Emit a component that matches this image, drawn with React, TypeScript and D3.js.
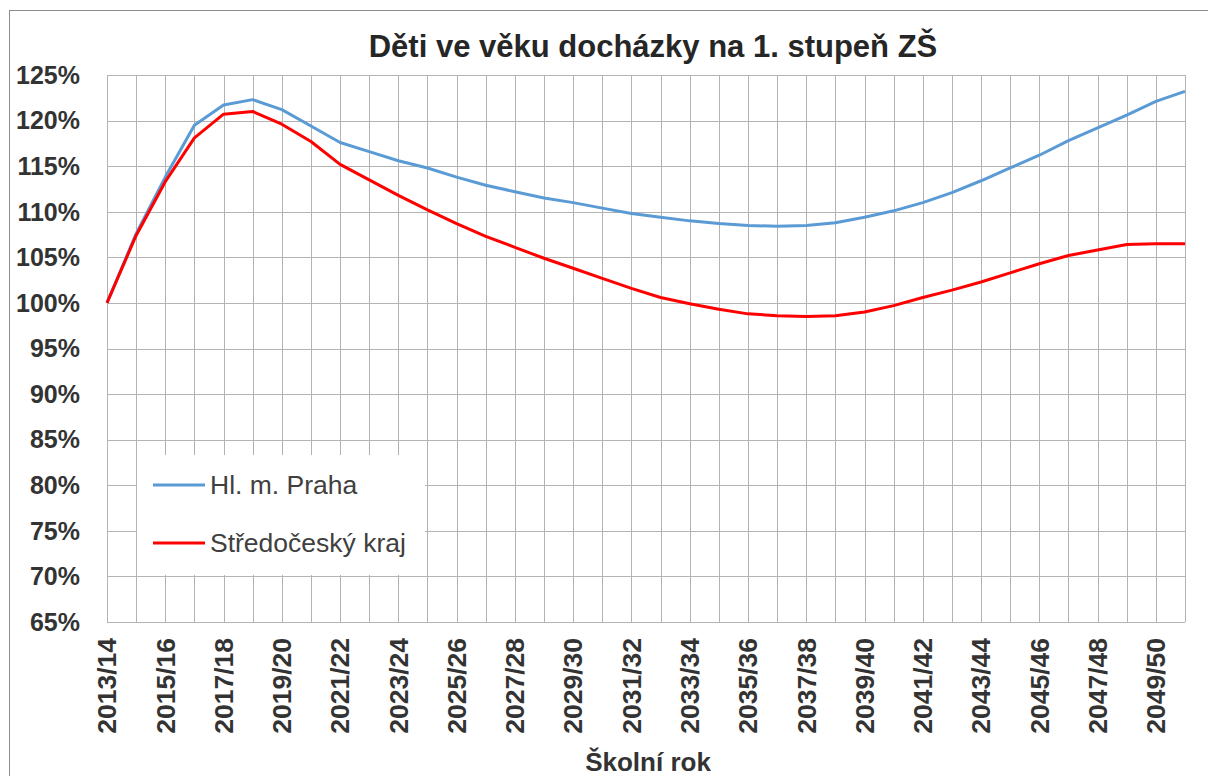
import * as React from 'react';
import * as d3 from 'd3';

// school years 2013/14 .. 2050/51
const YEARS: string[] = d3.range(2013, 2051).map((y) => y + '/' + String((y + 1) % 100).padStart(2, '0'));

const PRAHA: number[] = [
  100.0, 107.6, 113.8, 119.5, 121.7, 122.3, 121.2, 119.4, 117.6, 116.6,
  115.6, 114.8, 113.8, 112.9, 112.2, 111.5, 111.0, 110.4, 109.8, 109.4,
  109.0, 108.7, 108.5, 108.4, 108.5, 108.8, 109.4, 110.1, 111.0, 112.1,
  113.4, 114.8, 116.2, 117.8, 119.2, 120.6, 122.1, 123.2,
];

const STREDOCESKY: number[] = [
  100.0, 107.4, 113.3, 118.1, 120.7, 121.0, 119.6, 117.7, 115.2, 113.5,
  111.8, 110.2, 108.7, 107.3, 106.1, 104.9, 103.8, 102.7, 101.6, 100.6,
  99.9, 99.3, 98.8, 98.6, 98.5, 98.6, 99.0, 99.7, 100.6, 101.4,
  102.3, 103.3, 104.3, 105.2, 105.8, 106.4, 106.5, 106.5,
];

const Y_TICKS: number[] = d3.range(65, 126, 5);

const SERIES = [
  { name: 'Hl. m. Praha', values: PRAHA, color: '#5b9bd5' },
  { name: 'Středočeský kraj', values: STREDOCESKY, color: '#ff0000' },
];

const W = 1208;
const H = 776;
const MARGINS = { top: 75, left: 107, right: 23, bottom: 154 };
const FONT = '"Liberation Sans", Arial, sans-serif';

export default function App() {
  const innerW = W - MARGINS.left - MARGINS.right;
  const innerH = H - MARGINS.top - MARGINS.bottom;

  const xScale = d3.scalePoint<string>().domain(YEARS).range([0, innerW]);
  const yScale = d3.scaleLinear().domain([65, 125]).range([innerH, 0]);

  const line = d3
    .line<number>()
    .x((d, i) => xScale(YEARS[i]) as number)
    .y((d) => yScale(d))
    .curve(d3.curveLinear);

  return (
    <svg
      width={W}
      height={H}
      style={{ position: 'absolute', left: 0, top: 0, display: 'block', background: '#fff' }}
    >
      {/* chart frame */}
      <rect x={9.5} y={10.5} width={1220} height={820} fill="#fff" stroke="#8c8c8c" />

      <text
        x={653}
        y={57}
        textAnchor="middle"
        fontFamily={FONT}
        fontWeight="bold"
        fontSize={31}
        fill="#262626"
      >
        Děti ve věku docházky na 1. stupeň ZŠ
      </text>

      <g transform={'translate(' + [MARGINS.left, MARGINS.top] + ')'}>
        {/* horizontal gridlines */}
        {Y_TICKS.map((t) => (
          <line
            key={'h' + t}
            x1={0}
            x2={innerW}
            y1={Math.round(yScale(t)) + 0.5}
            y2={Math.round(yScale(t)) + 0.5}
            stroke="#b3b3b3"
            strokeWidth={1}
          />
        ))}
        {/* vertical gridlines */}
        {YEARS.map((y) => (
          <line
            key={'v' + y}
            x1={Math.round(xScale(y) as number) + 0.5}
            x2={Math.round(xScale(y) as number) + 0.5}
            y1={0}
            y2={innerH}
            stroke="#b3b3b3"
            strokeWidth={1}
          />
        ))}

        {/* y tick labels */}
        {Y_TICKS.map((t) => (
          <text
            key={'yt' + t}
            x={-27}
            y={yScale(t)}
            dy="0.35em"
            textAnchor="end"
            fontFamily={FONT}
            fontWeight="bold"
            fontSize={25}
            fill="#333"
          >
            {t + '%'}
          </text>
        ))}

        {/* x tick labels, every other year */}
        {YEARS.filter((y, i) => i % 2 === 0).map((y) => (
          <text
            key={'xt' + y}
            transform={'translate(' + [(xScale(y) as number), innerH + 16] + ') rotate(-90)'}
            dy="0.35em"
            textAnchor="end"
            fontFamily={FONT}
            fontWeight="bold"
            fontSize={26.5}
            fill="#333"
          >
            {y}
          </text>
        ))}

        {/* legend background hides gridlines */}
        <rect x={137 - MARGINS.left} y={455 - MARGINS.top} width={288} height={120} fill="#fff" />

        {SERIES.map((s) => (
          <path
            key={s.name}
            d={line(s.values) as string}
            fill="none"
            stroke={s.color}
            strokeWidth={3}
            strokeLinejoin="round"
          />
        ))}

        {SERIES.map((s, i) => (
          <g key={'lg' + s.name} transform={'translate(' + [153 - MARGINS.left, 485 - MARGINS.top + i * 58] + ')'}>
            <line x1={0} x2={52} y1={0} y2={0} stroke={s.color} strokeWidth={3} />
            <text x={57} dy="0.35em" fontFamily={FONT} fontSize={26.5} fill="#404040">
              {s.name}
            </text>
          </g>
        ))}
      </g>

      <text
        x={648}
        y={771}
        textAnchor="middle"
        fontFamily={FONT}
        fontWeight="bold"
        fontSize={26}
        fill="#333"
      >
        Školní rok
      </text>
    </svg>
  );
}
